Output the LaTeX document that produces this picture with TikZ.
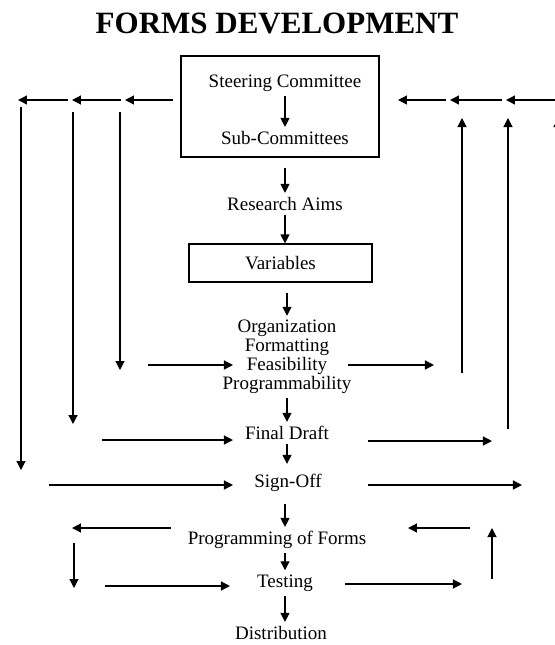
\documentclass[tikz,border=0pt]{standalone}
\usepackage{fontspec}
\setmainfont{Liberation Serif}
\usetikzlibrary{positioning, arrows.meta}

\begin{document}
\begin{tikzpicture}[x=0.5pt, y=-0.5pt,
    every node/.style={font=\fontsize{9.5}{9.5}\selectfont, inner sep=2pt},
    arr/.style={-{Stealth[length=4.5pt, width=4.5pt, inset=0pt]}, line width=0.6pt},
    chain/.style={arr, shorten <=1pt, shorten >=1pt}]
        \useasboundingbox (0,0) rectangle (555,645);
        \clip (0,0) rectangle (555,645);
        \node[font=\fontsize{15.5}{18}\selectfont\bfseries] (title) at (277,23) {FORMS DEVELOPMENT};
        \node[draw, line width=0.6pt, minimum width=99pt, minimum height=50.5pt] (cbox) at (280,106.5) {};
        \node (steer) at (285,83) {Steering Committee};
        \node (sub) at (285,138) {Sub-Committees};
        \node (aims) at (285,204) {Research Aims};
        \node[draw, line width=0.6pt, minimum width=91.5pt, minimum height=19pt] (var) at (280.5,263) {Variables};
        \node[align=center] (org) at (287,357) {Organization\\Formatting\\Feasibility\\Programmability};
        \node (final) at (287,433) {Final Draft};
        \node (sign) at (288,483) {Sign-Off};
        \node (prog) at (277,540) {Programming of Forms};
        \node (test) at (285,583) {Testing};
        \node (dist) at (281,633) {Distribution};

        \draw[arr] (steer) -- (sub);
        \draw[arr, shorten <=5pt] (cbox.south -| aims) -- (aims);
        \draw[arr] (aims) -- (aims |- var.north);
        \draw[arr, shorten <=5pt] (var.south -| org) -- (org);
        \draw[arr] (org) -- (org |- final.north);
        \draw[arr, shorten >=3pt] (final) -- (final |- sign.north);
        \draw[arr, shorten <=4pt] (sign.south -| test) -- (test |- prog.north);
        \draw[arr] (prog.south -| test) -- (test);
        \draw[arr] (test) -- (test |- dist.north);

        \coordinate (tl0) at (175,100);
        \coordinate (tl1) at (123,100);
        \coordinate (tl2) at (70,100);
        \coordinate (tl3) at (16,100);
        \coordinate (tr0) at (560,100);
        \coordinate (tr1) at (504,100);
        \coordinate (tr2) at (448,100);
        \coordinate (tr3) at (396,100);
        \foreach \a/\b in {tl0/tl1, tl1/tl2, tl2/tl3, tr0/tr1, tr1/tr2, tr2/tr3}
          \draw[chain] (\a) -- (\b);

        \coordinate (ltop1) at (120,112);
        \coordinate (lbot1) at (120,370);
        \coordinate (ltop2) at (73,112);
        \coordinate (lbot2) at (73,424);
        \coordinate (ltop3) at (21,107);
        \coordinate (lbot3) at (21,470);
        \coordinate (lrow1) at (148,365);
        \coordinate (lend1) at (233,365);
        \coordinate (lrow2) at (102,440);
        \coordinate (lend2) at (233,440);
        \coordinate (lrow3) at (49,485);
        \coordinate (lend3) at (233,485);
        \coordinate (rrow1) at (348,365);
        \coordinate (rend1) at (434,365);
        \coordinate (rrow2) at (368,441);
        \coordinate (rend2) at (492,441);
        \coordinate (rrow3) at (368,485);
        \coordinate (rend3) at (522,485);
        \coordinate (rbot1) at (462,373);
        \coordinate (rtop1) at (462,118);
        \coordinate (rbot2) at (508,429);
        \coordinate (rtop2) at (508,118);
        \coordinate (rbot3) at (558,490);
        \coordinate (rtop3) at (558,118);
        \coordinate (lp1) at (171,528);
        \coordinate (lp2) at (72,528);
        \coordinate (lv1) at (74,543);
        \coordinate (lv2) at (74,588);
        \coordinate (lt1) at (105,586);
        \coordinate (lt2) at (230,586);
        \coordinate (rp1) at (470,528);
        \coordinate (rp2) at (408,528);
        \coordinate (rv1) at (492,579);
        \coordinate (rv2) at (492,528);
        \coordinate (rt1) at (345,584);
        \coordinate (rt2) at (462,584);
        \foreach \a/\b in {ltop1/lbot1, ltop2/lbot2, ltop3/lbot3, lrow1/lend1, lrow2/lend2, lrow3/lend3,
                           rrow1/rend1, rrow2/rend2, rrow3/rend3, rbot1/rtop1, rbot2/rtop2, rbot3/rtop3,
                           lp1/lp2, lv1/lv2, lt1/lt2, rp1/rp2, rv1/rv2, rt1/rt2}
          \draw[arr] (\a) -- (\b);
     \end{tikzpicture}
\end{document}
